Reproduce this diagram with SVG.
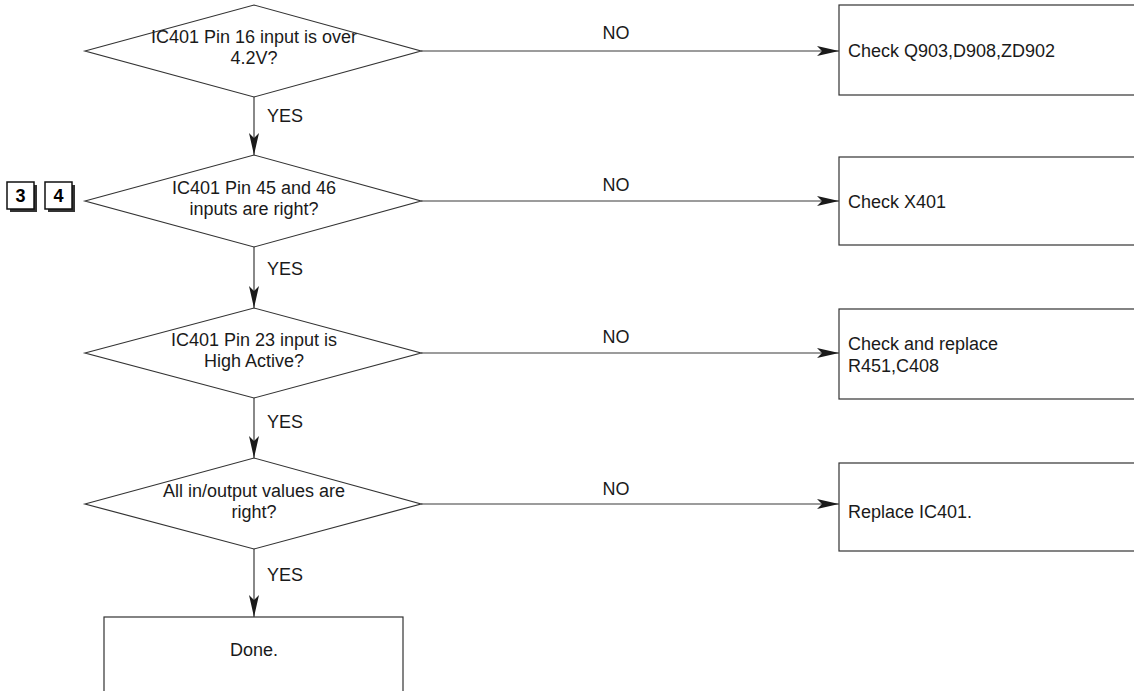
<svg xmlns="http://www.w3.org/2000/svg" width="1134" height="691" viewBox="0 0 1134 691">
<style>
  .shape { fill: #ffffff; stroke: #333333; stroke-width: 1.2; }
  .conn { fill: none; stroke: #3a3a3a; stroke-width: 1.2; }
  text { font-family: "Liberation Sans", Arial, sans-serif; font-size: 18px; fill: #1a1a1a; }
  .c { text-anchor: middle; }
  .badge { fill: #ffffff; stroke: #111111; stroke-width: 1.5; }
  .shadow { fill: #333333; }
  .num { font-weight: bold; font-size: 18px; text-anchor: middle; fill: #000; }
</style>
<defs>
  <marker id="arr" markerUnits="userSpaceOnUse" markerWidth="24" markerHeight="12" refX="22" refY="5" orient="auto">
    <path d="M0,0 L22,5 L0,10 L5,5 Z" fill="#1a1a1a"/>
  </marker>
</defs>
<rect width="1134" height="691" fill="#ffffff"/>

<g id="connectors">
  <line class="conn" x1="421" y1="51" x2="839" y2="51" marker-end="url(#arr)"/>
  <line class="conn" x1="421" y1="201" x2="839" y2="201" marker-end="url(#arr)"/>
  <line class="conn" x1="421" y1="353" x2="839" y2="353" marker-end="url(#arr)"/>
  <line class="conn" x1="421" y1="504" x2="839" y2="504" marker-end="url(#arr)"/>
  <line class="conn" x1="254" y1="97" x2="254" y2="155" marker-end="url(#arr)"/>
  <line class="conn" x1="254" y1="247" x2="254" y2="308" marker-end="url(#arr)"/>
  <line class="conn" x1="254" y1="398" x2="254" y2="458" marker-end="url(#arr)"/>
  <line class="conn" x1="254" y1="549" x2="254" y2="617" marker-end="url(#arr)"/>
  <text x="616" y="39" class="c">NO</text>
  <text x="616" y="191" class="c">NO</text>
  <text x="616" y="343" class="c">NO</text>
  <text x="616" y="495" class="c">NO</text>
  <text x="267" y="122">YES</text>
  <text x="267" y="275">YES</text>
  <text x="267" y="428">YES</text>
  <text x="267" y="581">YES</text>
</g>

<g id="badges">
  <rect class="shadow" x="10" y="185" width="27" height="27"/>
  <rect class="badge" x="7" y="182" width="27" height="27"/>
  <text class="num" x="20.5" y="202">3</text>
  <rect class="shadow" x="48" y="185" width="27" height="27"/>
  <rect class="badge" x="45" y="182" width="27" height="27"/>
  <text class="num" x="58.5" y="202">4</text>
</g>

<g id="d1">
  <polygon class="shape" points="85,51 254,5 421,51 254,97"/>
  <text x="254" y="43" class="c">IC401 Pin 16 input is over</text>
  <text x="254" y="64" class="c">4.2V?</text>
</g>
<g id="d2">
  <polygon class="shape" points="85,201 254,155 421,201 254,247"/>
  <text x="254" y="194" class="c">IC401 Pin 45 and 46</text>
  <text x="254" y="215" class="c">inputs are right?</text>
</g>
<g id="d3">
  <polygon class="shape" points="85,353 254,308 421,353 254,398"/>
  <text x="254" y="346" class="c">IC401 Pin 23 input is</text>
  <text x="254" y="367" class="c">High Active?</text>
</g>
<g id="d4">
  <polygon class="shape" points="85,504 254,458 421,504 254,549"/>
  <text x="254" y="497" class="c">All in/output values are</text>
  <text x="254" y="518" class="c">right?</text>
</g>

<g id="b1">
  <rect class="shape" x="839" y="5" width="310" height="90"/>
  <text x="848" y="57">Check Q903,D908,ZD902</text>
</g>
<g id="b2">
  <rect class="shape" x="839" y="157" width="310" height="88"/>
  <text x="848" y="208">Check X401</text>
</g>
<g id="b3">
  <rect class="shape" x="839" y="309" width="310" height="90"/>
  <text x="848" y="350">Check and replace</text>
  <text x="848" y="372">R451,C408</text>
</g>
<g id="b4">
  <rect class="shape" x="839" y="463" width="310" height="88"/>
  <text x="848" y="518">Replace IC401.</text>
</g>
<g id="done">
  <rect class="shape" x="104" y="617" width="299" height="90"/>
  <text x="254" y="656" class="c">Done.</text>
</g>
</svg>
